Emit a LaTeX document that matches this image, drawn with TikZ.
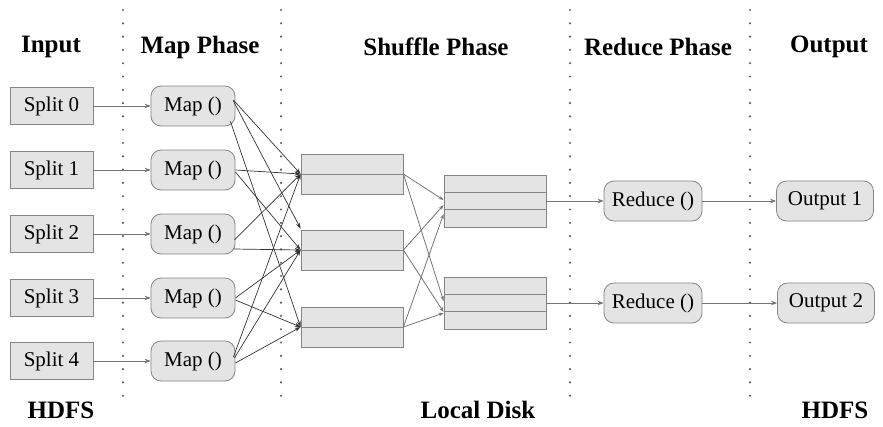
\documentclass[tikz,border=0pt]{standalone}
\usepackage{fontspec}
\setmainfont{Liberation Serif}
\usetikzlibrary{arrows.meta,calc}
\definecolor{boxfill}{HTML}{E4E4E4}
\definecolor{boxline}{HTML}{858585}
\definecolor{feedcol}{HTML}{747474}
\definecolor{dotcol}{HTML}{5E5E5E}
\begin{document}
\begin{tikzpicture}[x=1pt,y=-1pt,
  box/.style={draw=boxline, fill=boxfill, line width=0.8pt, inner sep=0pt,
              font=\fontsize{21}{24}\selectfont},
  splitbox/.style={box, minimum width=83pt, minimum height=37pt},
  procbox/.style={box, rounded corners=10pt, minimum height=40pt},
  bufbox/.style={box, minimum width=102pt},
  title/.style={font=\bfseries\fontsize{25}{28}\selectfont, inner sep=0pt},
  feed/.style={draw=feedcol, line width=0.8pt, -{Stealth[length=6pt,width=4.5pt]}},
  mix/.style={draw=black!80, line width=0.7pt, -{Stealth[length=6pt,width=4pt]}},
  part/.style={draw=feedcol, line width=0.8pt, -{Stealth[length=5pt,width=3.5pt]}},
  sepline/.style={draw=dotcol, line width=2.4pt, line cap=round, dash pattern=on 0pt off 13.3pt}
]
\useasboundingbox (0,0) rectangle (883,426);

% phase separators
\foreach \x in {123,281,570,750}
  \draw[sepline] (\x,10) -- (\x,398);

% headings
\node[title] (tin)  at (51,47)  {Input};
\node[title] (tmap) at (200,47) {Map Phase};
\node[title] (tsh)  at (436,47) {Shuffle Phase};
\node[title] (tred) at (658,47) {Reduce Phase};
\node[title] (tout) at (829,47) {Output};
\node[title] (fin)  at (61,410)  {HDFS};
\node[title] (fmid) at (478,410) {Local Disk};
\node[title] (fout) at (835,410) {HDFS};

% input splits and map tasks
\foreach \i/\y in {0/106,1/170,2/234,3/298,4/361} {
  \node[splitbox] (sp\i) at (51.5,\y) {Split \i};
  \node[procbox, minimum width=84pt] (m\i) at (193,\y) {Map ()};
  \draw[feed] (sp\i.east) -- (m\i.west);
}

% map output buffers (two partitions each)
\foreach \n/\y in {b1/174,b2/250,b3/327} {
  \node[bufbox, minimum height=40pt] (\n) at (352,\y) {};
  \draw[boxline, line width=0.8pt] (\n.west) -- (\n.east);
}

% merged reduce inputs (three segments each)
\foreach \n/\y in {ra/201,rb/303} {
  \node[bufbox, minimum height=52pt] (\n) at (495,\y) {};
  \draw[boxline, line width=0.8pt]
    ($(\n.north west)!1/3!(\n.south west)$) -- ($(\n.north east)!1/3!(\n.south east)$)
    ($(\n.north west)!2/3!(\n.south west)$) -- ($(\n.north east)!2/3!(\n.south east)$);
}

% reduce tasks and outputs
\node[procbox, minimum width=98pt] (r1) at (653,201) {Reduce ()};
\node[procbox, minimum width=98pt] (r2) at (653,303) {Reduce ()};
\node[procbox, minimum width=97pt] (o1) at (825,201) {Output 1};
\node[procbox, minimum width=97pt] (o2) at (826,303) {Output 2};

% map -> buffers
\draw[mix] ($(m0.east)+(-2,-6)$) -- (b1.west);
\draw[mix] ($(m0.east)+(-2,-5)$) -- ($(b2.north west)+(0,-1)$);
\draw[mix] ($(m0.south east)+(-5,-5)$) -- (b3.west);
\draw[mix] (m1.east) -- (b1.west);
\draw[mix] ($(m1.east)+(0,2)$) -- (b2.west);
\draw[mix] ($(m2.east)+(-1,6)$) -- (b1.west);
\draw[mix] ($(m2.east)+(-2,15)$) -- (b2.west);
\draw[mix] (m3.east) -- (b2.west);
\draw[mix] ($(m3.east)+(0,2)$) -- (b3.west);
\draw[mix] ($(m4.east)+(-2,-4)$) -- (b1.west);
\draw[mix] ($(m4.east)+(-1,-3)$) -- (b2.west);
\draw[mix] ($(m4.east)+(0,2)$) -- (b3.west);

% buffers -> reduce inputs
\draw[part] (b1.east) -- ($(ra.west)+(0,-1)$);
\draw[part] (b1.east) -- ($(rb.west)+(0,-2)$);
\draw[part] (b2.east) -- ($(ra.west)+(0,4)$);
\draw[part] (b2.east) -- ($(rb.west)+(0,9)$);
\draw[part] (b3.east) -- ($(ra.west)+(0,13)$);
\draw[part] (b3.east) -- ($(rb.west)+(0,10)$);

% reduce inputs -> reduce -> output
\draw[feed] (ra.east) -- (r1.west);
\draw[feed] (rb.east) -- (r2.west);
\draw[feed] (r1.east) -- (o1.west);
\draw[feed] (r2.east) -- (o2.west);
\end{tikzpicture}
\end{document}
